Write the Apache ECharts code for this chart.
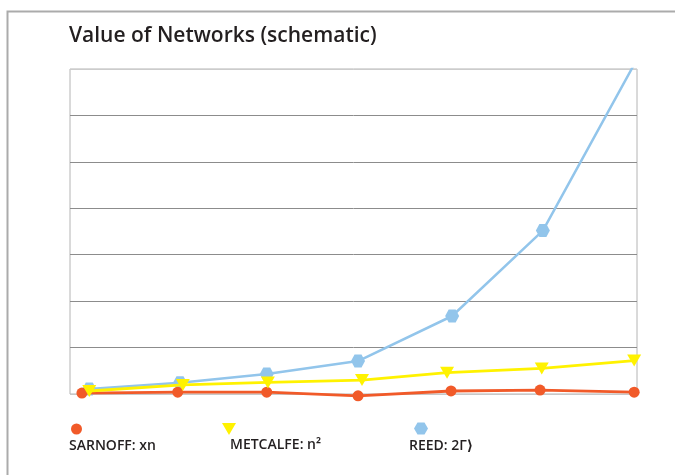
<!DOCTYPE html>
<html>
<head>
<meta charset="utf-8">
<script src="https://cdn.jsdelivr.net/npm/echarts@6/dist/echarts.min.js"></script>
<style>
  html, body { margin: 0; padding: 0; background: #ffffff; }
  #chart { width: 675px; height: 475px; }
</style>
</head>
<body>
<div id="chart"></div>
<script>
// Schematic network value curves; x is a relative position along the axis (0–100)
const titleText = 'Value of Networks (schematic)';
const seriesNames = ['SARNOFF: xn', 'METCALFE: n²', 'REED: 2Γ⟩'];

const sarnoffX = [2.1, 19.0, 34.7, 50.8, 67.2, 82.9, 99.5];
const sarnoffY = [0.2, 0.4, 0.4, -0.4, 0.65, 0.85, 0.4];

const metcalfeX = [3.4, 19.9, 34.9, 51.5, 66.5, 83.2, 99.5];
const metcalfeY = [0.65, 1.95, 2.5, 3.0, 4.6, 5.5, 7.2];

const reedX = [3.4, 19.4, 34.7, 50.8, 67.4, 83.4, 99.5];
const reedY = [1.1, 2.4, 4.3, 7.1, 16.8, 35.2, 71.0];

const yTicks = [0, 10, 20, 30, 40, 50, 60, 70];

const colors = { sarnoff: '#F15A29', metcalfe: '#FFF200', reed: '#92C5EB' };
const hexPath = 'path://M25,0 L75,0 L100,43.3 L75,86.6 L25,86.6 L0,43.3 Z';
const fontFamily = '"Open Sans", "DejaVu Sans", sans-serif';
const textColor = '#231F20';

function pairs(xs, ys) { return xs.map((x, i) => [x, ys[i]]); }

const chart = echarts.init(document.getElementById('chart'), null, { renderer: 'canvas' });

chart.setOption({
  backgroundColor: '#ffffff',
  animation: false,
  title: {
    text: titleText,
    left: 64, top: 21,
    textStyle: { fontFamily, fontSize: 21, fontWeight: 600, color: textColor }
  },
  grid: {
    left: 70, right: 38, top: 69, bottom: 81,
    show: true, borderColor: '#b4b4b4', borderWidth: 1
  },
  xAxis: {
    type: 'value', min: 0, max: 100,
    axisLine: { show: false }, axisTick: { show: false },
    axisLabel: { show: false }, splitLine: { show: false }
  },
  yAxis: {
    type: 'value', min: yTicks[0], max: yTicks[yTicks.length - 1],
    interval: yTicks[1] - yTicks[0],
    axisLine: { show: false }, axisTick: { show: false }, axisLabel: { show: false },
    splitLine: {
      show: true,
      lineStyle: {
        width: 1,
        color: ['#c8c8c8', '#8c8c8c', '#8c8c8c', '#8c8c8c', '#8c8c8c', '#8c8c8c', '#8c8c8c', '#cccccc']
      }
    }
  },
  series: [
    {
      name: seriesNames[2], type: 'line', data: pairs(reedX, reedY),
      clip: true, z: 2,
      symbol: hexPath, symbolSize: [14, 13],
      lineStyle: { color: colors.reed, width: 2.5 },
      itemStyle: { color: colors.reed }
    },
    {
      name: seriesNames[0], type: 'line', data: pairs(sarnoffX, sarnoffY),
      clip: false, z: 3,
      symbol: 'circle', symbolSize: 11,
      lineStyle: { color: colors.sarnoff, width: 2.8 },
      itemStyle: { color: colors.sarnoff }
    },
    {
      name: seriesNames[1], type: 'line', data: pairs(metcalfeX, metcalfeY),
      clip: false, z: 4,
      symbol: 'triangle', symbolRotate: 180, symbolSize: [14, 12],
      lineStyle: { color: colors.metcalfe, width: 2.8 },
      itemStyle: { color: colors.metcalfe }
    }
  ],
  graphic: [
    // outer frame of the figure
    {
      type: 'rect', silent: true, z: 0,
      shape: { x: 7.5, y: 11.5, width: 700, height: 500 },
      style: { fill: 'none', stroke: '#ababab', lineWidth: 2 }
    },
    // legend: marker above each label
    {
      type: 'circle', shape: { cx: 76.5, cy: 429, r: 5.5 },
      style: { fill: colors.sarnoff }
    },
    {
      type: 'text', x: 69, y: 446.5,
      style: { text: seriesNames[0], fontFamily, fontSize: 14, fontWeight: 600, fill: textColor, verticalAlign: 'middle' }
    },
    {
      type: 'polygon', shape: { points: [[222, 423], [236, 423], [229, 435]] },
      style: { fill: colors.metcalfe }
    },
    {
      type: 'text', x: 230, y: 445.5,
      style: { text: seriesNames[1], fontFamily, fontSize: 14, fontWeight: 600, fill: textColor, verticalAlign: 'middle' }
    },
    {
      type: 'polygon',
      shape: { points: [[417.5, 422.5], [424.5, 422.5], [428, 428.5], [424.5, 434.5], [417.5, 434.5], [414, 428.5]] },
      style: { fill: colors.reed }
    },
    {
      type: 'text', x: 409, y: 446.5,
      style: { text: seriesNames[2], fontFamily, fontSize: 14, fontWeight: 600, fill: textColor, verticalAlign: 'middle' }
    }
  ]
});
</script>
</body>
</html>
